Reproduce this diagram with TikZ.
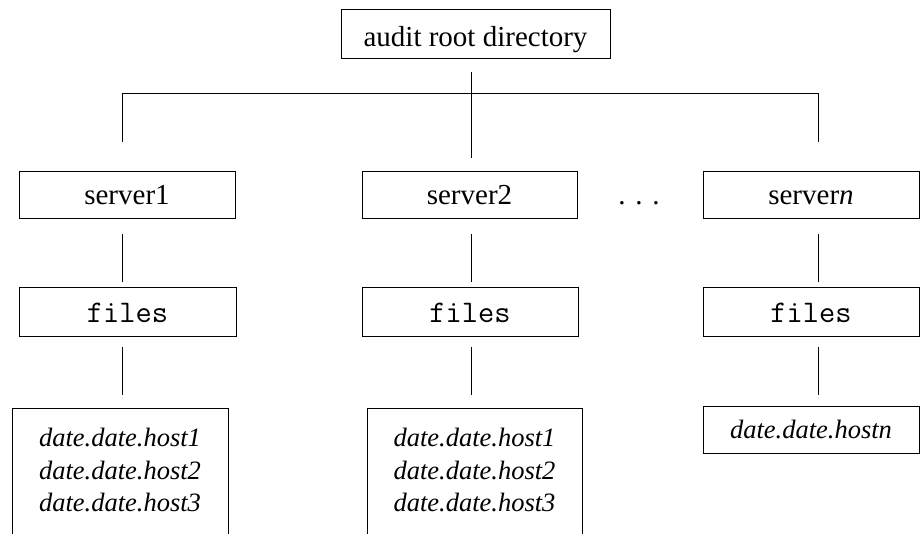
\documentclass[tikz,border=0pt]{standalone}
\usepackage{fontspec}
\setmainfont{Liberation Serif}
\begin{document}
\begin{tikzpicture}[x=1pt,y=-1pt,
  box/.style={draw, line width=0.9pt, inner sep=0pt, rectangle},
  conn/.style={line width=1pt},
  rm/.style={font=\fontsize{29}{34}\selectfont},
  tt/.style={font=\fontsize{31.5}{36}\ttfamily},
  it/.style={font=\fontsize{26.5}{32.5}\selectfont\itshape, align=center}]
\clip (0,0) rectangle (920,534);
\fill[white] (0,0) rectangle (920,534);
% root
\node[box, rm, minimum width=269, minimum height=49, text height=33, text depth=6] (root) at (475.5,33.5) {audit root directory};
% servers
\node[box, rm, minimum width=216, minimum height=47, text height=27, text depth=6] (s1) at (127,194.5) {server1};
\node[box, rm, minimum width=215, minimum height=47, text height=27, text depth=6] (s2) at (469.5,194.5) {server2};
\node[box, rm, minimum width=216, minimum height=47, text height=27, text depth=6] (sn) at (811,194.5) {server\textit{n}};
\node[rm, anchor=base] (dots) at (639,205) {. . .};
% files
\node[box, tt, minimum width=217, minimum height=49, text height=27, text depth=6] (f1) at (127.5,311.5) {files};
\node[box, tt, minimum width=216, minimum height=49, text height=27, text depth=6] (f2) at (470,311.5) {files};
\node[box, tt, minimum width=216, minimum height=49, text height=27, text depth=6] (fn) at (811,311.5) {files};
% date boxes
\node[box, minimum width=216, minimum height=160, anchor=north] (d1) at (120,408) {};
\node[it] (d1t) at (120,470) {date.date.host1\\date.date.host2\\date.date.host3};
\node[box, minimum width=215, minimum height=160, anchor=north] (d2) at (474.5,408) {};
\node[it] (d2t) at (474.5,470) {date.date.host1\\date.date.host2\\date.date.host3};
\node[box, it, minimum width=216, minimum height=47, text height=23, text depth=6] (dn) at (811,429.5) {date.date.host\textit{n}};
% connector coordinates
\coordinate (r0) at (471,72);
\coordinate (r1) at (471,158);
\coordinate (hl) at (122,94);
\coordinate (hm) at (471,94);
\coordinate (hr) at (818,94);
\coordinate (a1) at (122,142);
\coordinate (an) at (818,142);
\coordinate (b1t) at (122,234); \coordinate (b1b) at (122,282);
\coordinate (b2t) at (471,234); \coordinate (b2b) at (471,282);
\coordinate (bnt) at (818,234); \coordinate (bnb) at (818,282);
\coordinate (c1t) at (122,347); \coordinate (c1b) at (122,395);
\coordinate (c2t) at (471,347); \coordinate (c2b) at (471,395);
\coordinate (cnt) at (818,347); \coordinate (cnb) at (818,395);
\draw[conn] (r0) -- (r1);
\draw[conn] (a1) -- (hl) -- (hr) -- (an);
\draw[conn] (b1t) -- (b1b);
\draw[conn] (b2t) -- (b2b);
\draw[conn] (bnt) -- (bnb);
\draw[conn] (c1t) -- (c1b);
\draw[conn] (c2t) -- (c2b);
\draw[conn] (cnt) -- (cnb);
\end{tikzpicture}
\end{document}
